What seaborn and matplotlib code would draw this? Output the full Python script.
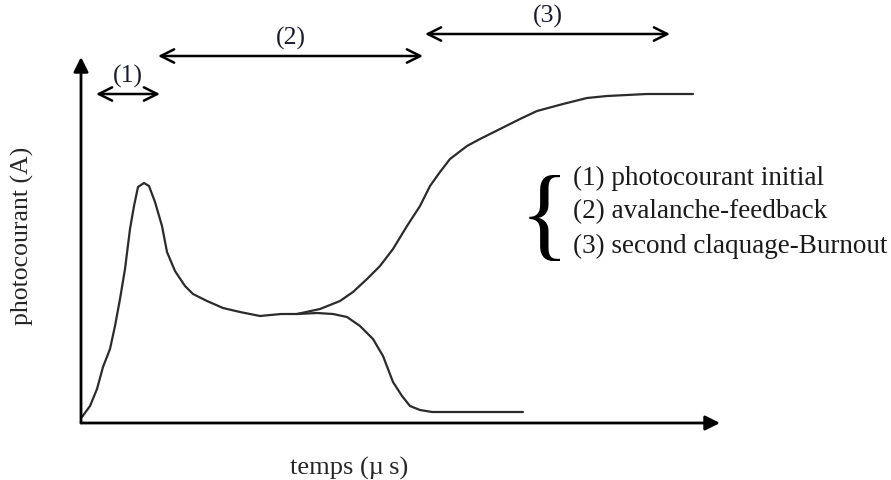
import matplotlib
matplotlib.use("Agg")
import matplotlib.pyplot as plt
import seaborn as sns
import pandas as pd

sns.set_theme(style="white")
plt.rcParams["font.family"] = ["Liberation Serif", "DejaVu Serif"]

# Schematic photocurrent response (arbitrary time / current units)
rise_t = [1, 9, 16, 22, 29, 34, 39, 44, 49, 53, 57, 63, 68, 74, 81, 86, 94,
          104, 112, 126, 142, 159, 179, 200, 216]
rise_i = [6, 17, 34, 56, 74, 97, 124, 154, 194, 217, 236, 240, 237, 221, 197,
          171, 152, 137, 129, 122, 115, 111, 107, 109, 109]

burnout_t = [216, 239, 259, 272, 286, 299, 312, 326, 339, 349, 359, 369, 386,
             399, 419, 439, 456, 482, 506, 526, 566, 612]
burnout_i = [109, 114, 122, 131, 144, 157, 174, 197, 217, 237, 251, 264, 277,
             284, 294, 304, 312, 319, 325, 327, 329, 329]

recover_t = [216, 236, 252, 266, 279, 292, 302, 307, 312, 321, 329, 339, 351, 442]
recover_i = [109, 110, 109, 106, 97, 84, 67, 54, 41, 27, 17, 13, 11, 11]

# Phase intervals along the time axis and their labels
phase_labels = ["(1)", "(2)", "(3)"]
phase_start = [15, 77, 344]
phase_end = [79, 342, 589]
phase_level = [329, 367, 389]

legend_lines = ["(1) photocourant initial",
                "(2) avalanche-feedback",
                "(3) second claquage-Burnout"]

fig = plt.figure(figsize=(8.91, 4.81), dpi=100)
ax = fig.add_axes([0, 0, 1, 1])
ax.set_xlim(-81, 810)
ax.set_ylim(-57, 424)
ax.axis("off")

curve = pd.concat([
    pd.DataFrame({"t": rise_t, "i": rise_i, "branche": "montée"}),
    pd.DataFrame({"t": burnout_t, "i": burnout_i, "branche": "burnout"}),
    pd.DataFrame({"t": recover_t, "i": recover_i, "branche": "retour"}),
])
for name, part in curve.groupby("branche", sort=False):
    sns.lineplot(data=part, x="t", y="i", ax=ax, color="#2b2b2b", lw=1.6,
                 sort=False, estimator=None)

# Axes with arrow heads
axis_style = dict(arrowstyle="-|>", color="black", lw=2,
                  mutation_scale=22, shrinkA=0, shrinkB=0)
ax.annotate("", xy=(0, 366), xytext=(0, 0), arrowprops=axis_style)
ax.annotate("", xy=(639, 0), xytext=(0, 0), arrowprops=axis_style)

# Phase double arrows
for lab, a, b, lv in zip(phase_labels, phase_start, phase_end, phase_level):
    ax.annotate("", xy=(b, lv), xytext=(a, lv),
                arrowprops=dict(arrowstyle="<->", color="black", lw=1.8,
                                mutation_scale=24, shrinkA=0, shrinkB=0))
    ax.text((a + b) / 2, lv + 19, lab, ha="center", va="center",
            fontsize=18.5, color="#1a1a2e")

# Legend with brace
ax.text(463, 202, "{", ha="center", va="center", fontsize=74, color="black")
for k, line in enumerate(legend_lines):
    ax.text(492, 246 - 34 * k, line, ha="left", va="center",
            fontsize=19.5, color="#1a1a1a")

ax.text(268, -44, "temps (µ\u2009s)", ha="center", va="center", fontsize=19)
ax.text(-59, 188, "photocourant (A)", ha="center", va="center",
        rotation=90, fontsize=18.5)

fig.savefig("out.png", dpi=100)
